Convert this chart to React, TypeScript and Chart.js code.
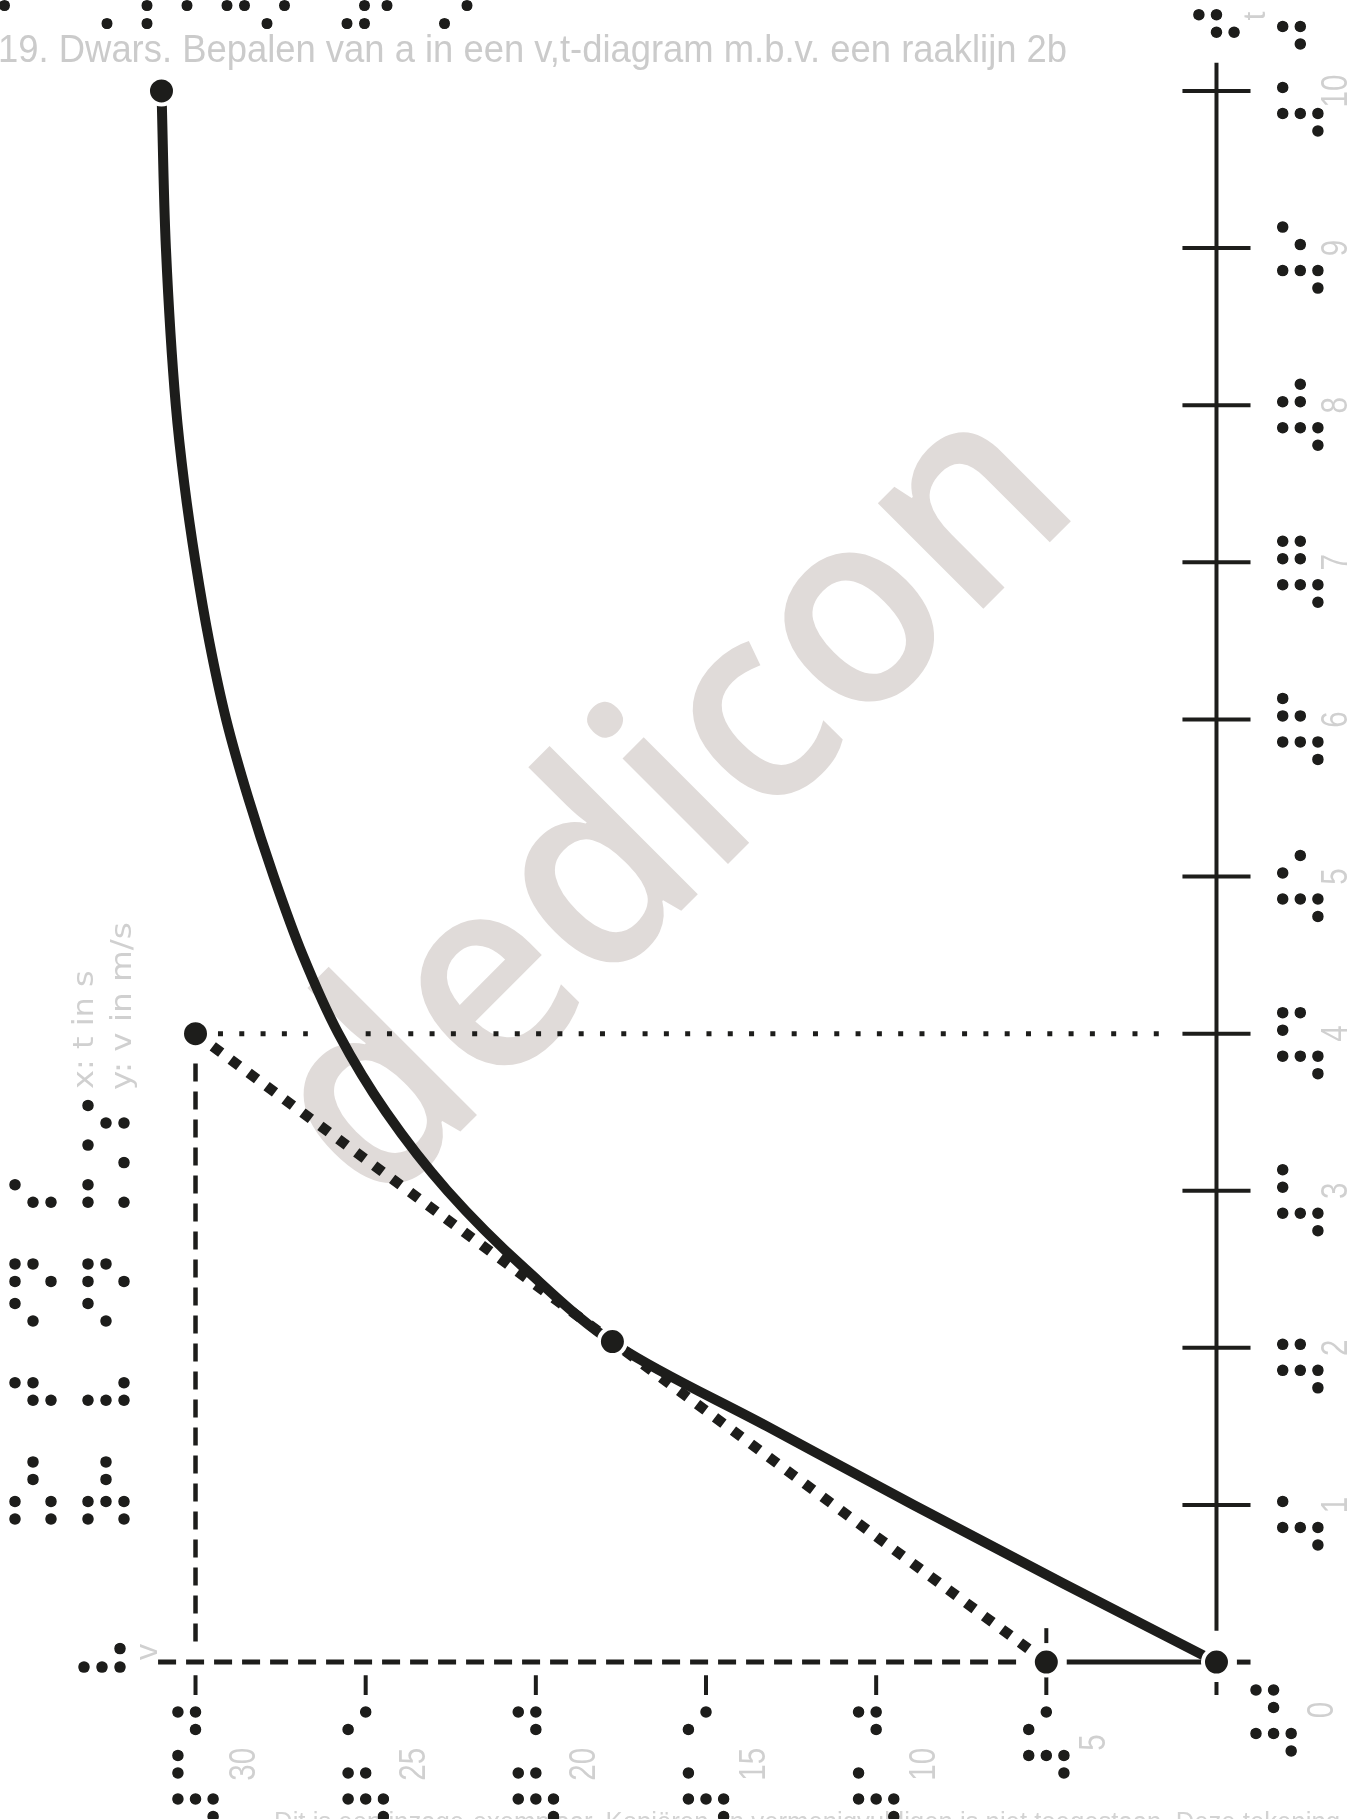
import React, { useEffect, useRef } from 'react';
import { Chart, registerables } from 'chart.js';

Chart.register(...registerables);

// ---------------- values ----------------
// curve v(t)
const curveT = [0, 0.5, 1, 1.5, 2, 2.5, 3, 3.5, 4, 4.5, 5, 5.5, 6, 6.5, 7, 7.5, 8, 9, 10];
const curveV = [0, 4.5, 8.9, 13.2, 17.5, 20.3, 22.6, 24.4, 25.8, 26.85, 27.7, 28.45, 29.1, 29.6, 30.0, 30.33, 30.58, 30.87, 31.0];

// marked points
const markerT = [0, 0, 2.04, 4, 10];
const markerV = [0, 5, 17.75, 30, 31];

// tangent line (raaklijn)
const tangentT = [0, 4];
const tangentV = [5, 30];

// helper lines of the slope triangle
const guideV = 30;
const guideVRangeT = [3.81, 0.077];
const guideT = 4;
const guideTSegmentsV = [[29.34, 26.7], [25.0, 1.56]];

// axes (drawn as data)
const tAxisRangeT = [0.2, 10.18];
const vAxisDashedV = [31.1, 5.67];
const vAxisSolidV = [4.4, 0.4];
const vAxisStubV = [-0.6, -1.0];

const tTicks = [1, 2, 3, 4, 5, 6, 7, 8, 9, 10];
const tTickLabels = ['1', '2', '3', '4', '5', '6', '7', '8', '9', '10'];
const vTicks = [0, 5, 10, 15, 20, 25, 30];
const vTickLabels = ['0', '5', '10', '15', '20', '25', '30'];
const tTickHalfV = 1;
const vTickRangeT = [-0.083, -0.21];
const vZeroTickRangeT = [-0.127, -0.21];
const vFiveUpperRangeT = [0.121, 0.216];

// texts
const titleText = '19. Dwars. Bepalen van a in een v,t-diagram m.b.v. een raaklijn 2b';
const titleBraille = '⠑⠑⠝ ⠗⠁⠁⠅⠇⠊⠚⠝ ⠼⠃⠠⠃';
const footerText = 'Dit is een inzage-exemplaar. Kopiëren en vermenigvuldigen is niet toegestaan. Deze tekening';
const watermarkText = 'dedicon';
const tAxisName = 't';
const vAxisName = 'v';
const tAxisBraille = '⠞';
const vAxisBraille = '⠧';
const legendLines = ['x: t in s', 'y: v in m/s'];
const legendBraille = ['⠭⠒ ⠞ ⠊⠝ ⠎', '⠽⠒ ⠧ ⠊⠝ ⠍⠌⠎'];

const BRAILLE_DIGITS: Record<string, string> = {
  '0': '⠚', '1': '⠁', '2': '⠃', '3': '⠉', '4': '⠙',
  '5': '⠑', '6': '⠋', '7': '⠛', '8': '⠓', '9': '⠊',
};
const toBrailleNumber = (s: string) => '⠼' + [...s].map((c) => BRAILLE_DIGITS[c]).join('');

// ---------------- layout / style ----------------
const W = 1365;
const H = 1819;
const V_MIN = -4.364;
const V_MAX = 35.745;
const T_MIN = -0.9987;
const T_MAX = 10.579;
const INK = '#1d1d1b';
const GREY = '#d0d0d0';
const WATERMARK = '#e0dbd9';
const PRINT_FONT = '"Liberation Sans", Arial, sans-serif';
const BRAILLE_FONT = '"DejaVu Sans"';

type P = { x: number; y: number };
const pt = (v: number, t: number): P => ({ x: v, y: t });

type BrailleGeom = { cx: number; cy: number; w: number; h: number; spX: number; spY: number };
let geomCache: BrailleGeom | null = null;
function brailleGeom(ctx: CanvasRenderingContext2D): BrailleGeom {
  if (geomCache) return geomCache;
  ctx.save();
  ctx.font = `100px ${BRAILLE_FONT}`;
  ctx.textAlign = 'left';
  ctx.textBaseline = 'alphabetic';
  const a = ctx.measureText('⠿');
  const b = ctx.measureText('⠁');
  ctx.restore();
  const L6 = -a.actualBoundingBoxLeft;
  const R6 = a.actualBoundingBoxRight;
  const T6 = -a.actualBoundingBoxAscent;
  const B6 = a.actualBoundingBoxDescent;
  const L1 = -b.actualBoundingBoxLeft;
  const R1 = b.actualBoundingBoxRight;
  const T1 = -b.actualBoundingBoxAscent;
  const B1 = b.actualBoundingBoxDescent;
  const w = Math.max(1, R1 - L1);
  const h = Math.max(1, B1 - T1);
  const spX = Math.max(1, R6 - L6 - w);
  const spY = Math.max(1, (B6 - T6 - h) / 2);
  geomCache = { cx: (L1 + R1) / 2, cy: (T1 + B1) / 2, w, h, spX, spY };
  return geomCache;
}

// braille cells as real text; dots rounded with a circular clip
function drawBraille(
  ctx: CanvasRenderingContext2D,
  cells: string,
  ox: number,
  oy: number,
  angle: number,
  pitch: number,
  sx: number,
  sy: number,
  d: number,
) {
  const g = brailleGeom(ctx);
  const kx = sx / g.spX;
  const ky = sy / g.spY;
  const dotMin = Math.min(g.w * kx, g.h * ky);
  const grow = Math.max(0, d + 2 - dotMin);
  ctx.save();
  ctx.translate(ox, oy);
  ctx.rotate(angle);
  ctx.font = `100px ${BRAILLE_FONT}`;
  ctx.textAlign = 'left';
  ctx.textBaseline = 'alphabetic';
  ctx.fillStyle = INK;
  ctx.strokeStyle = INK;
  ctx.lineJoin = 'round';
  [...cells].forEach((ch, i) => {
    if (ch === ' ' || ch === '\u2800') return;
    const x0 = i * pitch;
    ctx.save();
    ctx.beginPath();
    for (let c = 0; c < 2; c++) {
      for (let r = 0; r < 3; r++) {
        const cx = x0 + c * sx;
        const cy = r * sy;
        ctx.moveTo(cx + d / 2, cy);
        ctx.arc(cx, cy, d / 2, 0, Math.PI * 2);
      }
    }
    ctx.clip();
    ctx.translate(x0, 0);
    ctx.scale(kx, ky);
    ctx.translate(-g.cx, -g.cy);
    ctx.fillText(ch, 0, 0);
    if (grow > 0) {
      ctx.lineWidth = grow / Math.min(kx, ky);
      ctx.strokeText(ch, 0, 0);
    }
    ctx.restore();
  });
  ctx.restore();
}

type PrintOpts = {
  angle?: number;
  align?: CanvasTextAlign;
  family?: string;
  weight?: string;
  color?: string;
  squeeze?: number;
  width?: number;
};

function printText(
  ctx: CanvasRenderingContext2D,
  text: string,
  x: number,
  y: number,
  size: number,
  o: PrintOpts = {},
) {
  const { angle = 0, align = 'left', family = PRINT_FONT, weight = 'normal', color = GREY, squeeze = 1, width } = o;
  ctx.save();
  ctx.translate(x, y);
  ctx.rotate(angle);
  ctx.font = `${weight} ${size}px ${family}`;
  ctx.fillStyle = color;
  ctx.textBaseline = 'alphabetic';
  if (width) {
    ctx.textAlign = 'left';
    const m = ctx.measureText(text);
    const ink = m.actualBoundingBoxLeft + m.actualBoundingBoxRight;
    ctx.scale(width / ink, 1);
    ctx.fillText(text, m.actualBoundingBoxLeft, 0);
  } else {
    ctx.textAlign = align;
    ctx.scale(squeeze, 1);
    ctx.fillText(text, 0, 0);
  }
  ctx.restore();
}

const decorPlugin = {
  id: 'decor',
  beforeDraw(chart: any) {
    const ctx = chart.ctx as CanvasRenderingContext2D;
    ctx.save();
    ctx.fillStyle = '#ffffff';
    ctx.fillRect(0, 0, chart.width, chart.height);
    ctx.restore();
  },
  beforeDatasetsDraw(chart: any) {
    const ctx = chart.ctx as CanvasRenderingContext2D;
    // watermark
    ctx.save();
    ctx.translate(386, 1206);
    ctx.rotate(-Math.PI / 4);
    ctx.font = '600 276px "Open Sans", sans-serif';
    ctx.textBaseline = 'alphabetic';
    ctx.textAlign = 'left';
    const m = ctx.measureText(watermarkText);
    const ink = m.actualBoundingBoxLeft + m.actualBoundingBoxRight;
    ctx.scale(970 / ink, 1);
    ctx.fillStyle = WATERMARK;
    ctx.fillText(watermarkText, m.actualBoundingBoxLeft, 0);
    ctx.restore();
  },
  afterDatasetsDraw(chart: any) {
    const ctx = chart.ctx as CanvasRenderingContext2D;
    const xs = chart.scales.x;
    const ys = chart.scales.y;
    const up = -Math.PI / 2;

    // title + its braille line (cut at the top)
    printText(ctx, titleText, 0, 62, 38, { width: 1066, color: '#cbcbcb' });
    drawBraille(ctx, titleBraille, -173, -12.5, 0, 40, 17.5, 18, 11);

    // footer (cut at the bottom)
    printText(ctx, footerText, 276, 1831, 27, { width: 1063, color: '#d3d3d3' });

    // t axis labels
    tTicks.forEach((t, i) => {
      const y = ys.getPixelForValue(t);
      drawBraille(ctx, toBrailleNumber(tTickLabels[i]), 1282.7, y + 40, up, 43.5, 17.5, 17.6, 11.5);
      printText(ctx, tTickLabels[i], 1347, y, 36, { angle: up, align: 'center', squeeze: 0.82 });
    });

    // v axis labels
    vTicks.forEach((v, i) => {
      const x = xs.getPixelForValue(v);
      const br = toBrailleNumber(vTickLabels[i]);
      const n = [...br].length;
      if (v === 0) {
        const first = 1751;
        drawBraille(ctx, br, x + 39.5, first, up, 43.5, 17.5, 17.6, 11.5);
        printText(ctx, vTickLabels[i], x + 116.5, 1710, 36, { angle: up, align: 'center', squeeze: 0.82 });
      } else {
        const end = 1712;
        const first = end + 17.5 + (n - 1) * 43.5;
        drawBraille(ctx, br, x - 17.6, first, up, 43.5, 17.5, 17.6, 11.5);
        printText(ctx, vTickLabels[i], x + 59, (first + end) / 2, 36, { angle: up, align: 'center', squeeze: 0.82 });
      }
    });

    // axis names
    const tx = xs.getPixelForValue(0);
    drawBraille(ctx, tAxisBraille, tx - 17.6, 32.3, up, 43.5, 17.5, 17.6, 11.5);
    printText(ctx, tAxisName, 1265, 16, 32, { angle: up, align: 'center' });
    const vy = ys.getPixelForValue(0);
    drawBraille(ctx, vAxisBraille, 84, vy + 5, up, 43.5, 18.5, 18, 11.5);
    printText(ctx, vAxisName, 157, vy - 10, 32, { angle: up, align: 'center' });

    // legend (units)
    drawBraille(ctx, legendBraille[0], 15, 1519, up, 39.6, 17.5, 18, 11.5);
    drawBraille(ctx, legendBraille[1], 88, 1519, up, 39.6, 17.5, 18, 11.5);
    printText(ctx, legendLines[0], 93, 1089, 28, { angle: up, width: 118, family: '"DejaVu Sans"' });
    printText(ctx, legendLines[1], 131, 1090, 28, { angle: up, width: 167, family: '"DejaVu Sans"' });
  },
};

function lineSet(data: P[], extra: any = {}) {
  return {
    data,
    borderColor: INK,
    borderWidth: 4,
    pointRadius: 0,
    fill: false,
    tension: 0,
    order: 5,
    ...extra,
  };
}

function buildDatasets() {
  const sets: any[] = [];
  // markers on top
  sets.push({
    data: markerT.map((t, i) => pt(markerV[i], t)),
    showLine: false,
    pointRadius: 13.5,
    pointBorderWidth: 4,
    pointBackgroundColor: INK,
    pointBorderColor: '#ffffff',
    order: 0,
  });
  // curve
  sets.push(
    lineSet(curveT.map((t, i) => pt(curveV[i], t)), {
      borderWidth: 10,
      cubicInterpolationMode: 'monotone',
      order: 1,
    }),
  );
  // tangent
  sets.push(
    lineSet(tangentT.map((t, i) => pt(tangentV[i], t)), {
      borderWidth: 10.5,
      borderDash: [10.5, 11.8],
      order: 2,
    }),
  );
  // guide at v = 30 (dashed)
  sets.push(lineSet([pt(guideV, guideVRangeT[0]), pt(guideV, guideVRangeT[1])], { borderWidth: 4.5, borderDash: [18, 10], order: 3 }));
  // guide at t = 4 (dotted)
  guideTSegmentsV.forEach((s) => {
    sets.push(lineSet([pt(s[0], guideT), pt(s[1], guideT)], { borderWidth: 5, borderDash: [5, 16.3], order: 3 }));
  });
  // v axis
  sets.push(lineSet([pt(vAxisDashedV[0], 0), pt(vAxisDashedV[1], 0)], { borderWidth: 5, borderDash: [18, 10] }));
  sets.push(lineSet([pt(vAxisSolidV[0], 0), pt(vAxisSolidV[1], 0)], { borderWidth: 5 }));
  sets.push(lineSet([pt(vAxisStubV[0], 0), pt(vAxisStubV[1], 0)], { borderWidth: 5 }));
  // t axis
  sets.push(lineSet([pt(0, tAxisRangeT[0]), pt(0, tAxisRangeT[1])]));
  // t ticks
  tTicks.forEach((t) => sets.push(lineSet([pt(tTickHalfV, t), pt(-tTickHalfV, t)])));
  // v ticks
  vTicks.forEach((v) => {
    const r = v === 0 ? vZeroTickRangeT : vTickRangeT;
    sets.push(lineSet([pt(v, r[0]), pt(v, r[1])]));
  });
  sets.push(lineSet([pt(5, vFiveUpperRangeT[0]), pt(5, vFiveUpperRangeT[1])]));
  return sets;
}

export default function App() {
  const ref = useRef<HTMLCanvasElement>(null);
  useEffect(() => {
    document.body.style.margin = '0';
    const canvas = ref.current;
    if (!canvas) return;
    const chart = new Chart(canvas, {
      type: 'line',
      data: { datasets: buildDatasets() },
      options: {
        indexAxis: 'y',
        animation: false,
        responsive: false,
        devicePixelRatio: 1,
        events: [],
        layout: { padding: 0, autoPadding: false },
        plugins: { legend: { display: false }, tooltip: { enabled: false }, title: { display: false } },
        scales: {
          x: { type: 'linear', reverse: true, min: V_MIN, max: V_MAX, display: false, bounds: 'data' },
          y: { type: 'linear', min: T_MIN, max: T_MAX, display: false, bounds: 'data' },
        },
        elements: { line: { borderCapStyle: 'butt' } },
      },
      plugins: [decorPlugin],
    } as any);
    return () => chart.destroy();
  }, []);
  return (
    <div style={{ position: 'absolute', left: 0, top: 0, width: W, height: H, background: '#fff', overflow: 'hidden' }}>
      <canvas ref={ref} width={W} height={H} style={{ display: 'block', width: W, height: H }} />
    </div>
  );
}
